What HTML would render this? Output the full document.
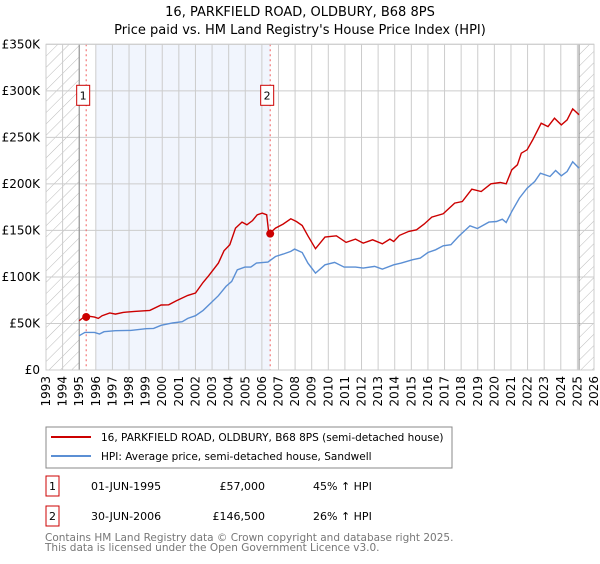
<!DOCTYPE html>
<html><head><meta charset="utf-8"><style>
body{margin:0;background:#fff;font-family:"DejaVu Sans","Liberation Sans",sans-serif;}
svg text{font-family:"DejaVu Sans","Liberation Sans",sans-serif;}
</style></head><body>
<svg id="chart" width="600" height="560" xmlns="http://www.w3.org/2000/svg">
<defs>
<pattern id="hatch" patternUnits="userSpaceOnUse" width="8" height="8" patternTransform="rotate(45)">
<line x1="0" y1="0" x2="0" y2="8" stroke="#bbb" stroke-width="1"/>
</pattern>
</defs>
<text x="300" y="16" text-anchor="middle" font-size="13">16, PARKFIELD ROAD, OLDBURY, B68 8PS</text>
<text x="300" y="34" text-anchor="middle" font-size="13">Price paid vs. HM Land Registry's House Price Index (HPI)</text>
<g id="plot"></g>
<g>
<rect x="46" y="427" width="406" height="41" fill="#fff" stroke="#888"/>
<line x1="51" y1="437" x2="91" y2="437" stroke="#cc0000" stroke-width="2"/>
<text x="101" y="441" font-size="10.5">16, PARKFIELD ROAD, OLDBURY, B68 8PS (semi-detached house)</text>
<line x1="51" y1="456" x2="91" y2="456" stroke="#5b8fd4" stroke-width="2"/>
<text x="101" y="460" font-size="10.5">HPI: Average price, semi-detached house, Sandwell</text>
</g>
<g font-size="11">
<rect x="46" y="476" width="13" height="20" fill="#fff" stroke="#cc0000"/>
<text x="52.5" y="490" text-anchor="middle">1</text>
<text x="91" y="490">01-JUN-1995</text>
<text x="265" y="490" text-anchor="end">£57,000</text>
<text x="313" y="490">45% ↑ HPI</text>
</g>
<g font-size="11">
<rect x="46" y="506" width="13" height="20" fill="#fff" stroke="#cc0000"/>
<text x="52.5" y="520" text-anchor="middle">2</text>
<text x="91" y="520">30-JUN-2006</text>
<text x="265" y="520" text-anchor="end">£146,500</text>
<text x="313" y="520">26% ↑ HPI</text>
</g>
<text x="45" y="541" font-size="10.5" fill="#777">Contains HM Land Registry data © Crown copyright and database right 2025.</text>
<text x="45" y="551" font-size="10.5" fill="#777">This data is licensed under the Open Government Licence v3.0.</text>
</svg>
<script>
const yTicks=[0,50,100,150,200,250,300,350];
const yTickLabels=["£0","£50K","£100K","£150K","£200K","£250K","£300K","£350K"];
const years=[1993,1994,1995,1996,1997,1998,1999,2000,2001,2002,2003,2004,2005,2006,2007,2008,2009,2010,2011,2012,2013,2014,2015,2016,2017,2018,2019,2020,2021,2022,2023,2024,2025,2026];
const hpiYears=[1995.0,1995.34,1995.92,1996.22,1996.49,1997.18,1998.10,1999.02,1999.48,1999.93,2000.62,2001.20,2001.54,2002.00,2002.46,2002.92,2003.38,2003.84,2004.18,2004.52,2004.98,2005.33,2005.67,2006.36,2006.82,2007.28,2007.74,2007.97,2008.43,2008.77,2009.23,2009.80,2010.38,2010.95,2011.64,2012.10,2012.79,2013.25,2013.94,2014.39,2015.08,2015.54,2016.00,2016.46,2016.92,2017.38,2017.84,2018.53,2018.98,2019.67,2020.13,2020.48,2020.71,2021.05,2021.51,2021.97,2022.43,2022.77,2023.35,2023.69,2024.03,2024.38,2024.72,2025.1];
const hpiValues=[36.9,40.4,40.4,38.7,41.2,42.2,42.6,44.4,44.7,48.0,50.5,51.9,55.5,58.3,64.1,71.9,79.8,89.8,95.2,107.7,110.6,110.6,114.9,116.0,122.0,124.5,127.4,129.9,126.3,114.9,104.1,113.1,115.6,110.6,110.6,109.5,111.3,108.4,113.1,114.9,118.5,120.3,126.3,129.2,133.5,134.6,143.5,155.0,152.1,158.9,159.6,162.1,158.5,170.4,184.7,195.4,202.6,211.5,207.9,214.4,208.7,213.3,223.7,216.9];
const priceYears=[1995.0,1995.39,1995.92,1996.15,1996.38,1996.84,1997.18,1997.64,1998.33,1999.25,1999.93,2000.39,2000.85,2001.54,2002.00,2002.46,2002.80,2003.38,2003.72,2004.07,2004.41,2004.80,2005.10,2005.44,2005.72,2006.02,2006.29,2006.42,2006.82,2007.28,2007.74,2008.08,2008.43,2008.77,2009.23,2009.80,2010.49,2011.07,2011.64,2012.10,2012.67,2013.25,2013.71,2013.94,2014.28,2014.85,2015.31,2015.77,2016.23,2016.92,2017.61,2018.07,2018.64,2019.21,2019.79,2020.36,2020.71,2021.05,2021.39,2021.62,2021.97,2022.31,2022.82,2023.23,2023.62,2024.03,2024.38,2024.72,2025.1];
const priceValues=[53.0,58.3,56.9,55.5,58.3,61.2,60.1,61.9,63.0,64.1,69.8,70.1,74.4,80.2,82.7,94.1,101.3,114.9,128.1,134.6,152.5,158.9,156.0,160.7,166.8,168.6,166.8,146.0,152.5,156.8,162.5,159.6,155.3,144.2,130.3,142.8,144.2,137.1,140.7,136.4,139.9,135.6,140.7,138.1,144.6,148.9,150.7,156.8,164.3,167.9,179.3,181.1,194.3,191.8,200.1,201.5,200.1,215.1,220.5,233.0,236.6,247.3,265.2,261.6,270.6,263.4,268.8,280.6,274.2];
const saleYears=[1995.42,2006.5];
const saleValues=[57,146.5];
const saleLabels=["1","2"];

const L=46,R=594,T=44.3,B=370,X0=1993,X1=2026,YMAX=350;
const sx=y=>L+(y-X0)*(R-L)/(X1-X0);
const sy=v=>B-v*(B-T)/YMAX;
const NS="http://www.w3.org/2000/svg";
const g=document.getElementById('plot');
function mk(tag,attrs,parent){const e=document.createElementNS(NS,tag);for(const k in attrs)e.setAttribute(k,attrs[k]);(parent||g).appendChild(e);return e;}

let e;
e=mk('rect',{x:L,y:T,width:R-L,height:B-T,fill:'#fff'});


e=mk('rect',{x:sx(1996.0),y:T,width:sx(saleYears[1])-sx(1996.0),height:B-T,fill:'#eef3fd',opacity:0.8});


e=mk('rect',{x:L,y:T,width:sx(1995)-L,height:B-T,fill:'url(#hatch)'});


e=mk('rect',{x:sx(2025.1),y:T,width:R-sx(2025.1),height:B-T,fill:'url(#hatch)'});



years.forEach(y=>{
  e=mk('line',{x1:sx(y),x2:sx(y),y1:T,y2:B,stroke:'#ccc','stroke-width':1});
  
  
  const t=mk('text',{x:0,y:0,'font-size':12,'text-anchor':'end',transform:`translate(${sx(y)+4},${B+6}) rotate(-90)`});
  t.textContent=y;
  
  
});
yTicks.forEach((v,i)=>{
  e=mk('line',{x1:L,x2:R,y1:sy(v),y2:sy(v),stroke:'#ccc','stroke-width':1});
  
  
  const t=mk('text',{x:L-6,y:sy(v)+4,'font-size':12,'text-anchor':'end'});
  t.textContent=yTickLabels[i];
  
  
});
[1995,2025.1].forEach(y=>{
  e=mk('line',{x1:sx(y),x2:sx(y),y1:T,y2:B,stroke:'#888','stroke-width':1});
  
  
});
saleYears.forEach((y,i)=>{
  e=mk('line',{x1:sx(y),x2:sx(y),y1:T,y2:B,stroke:'#f06060','stroke-width':1,'stroke-dasharray':'2,3'});
  
  
});
function path(xs,vs){return xs.map((x,i)=>(i?'L':'M')+sx(x).toFixed(1)+','+sy(vs[i]).toFixed(1)).join('');}
e=mk('path',{d:path(hpiYears,hpiValues),fill:'none',stroke:'#5b8fd4','stroke-width':1.4});


e=mk('path',{d:path(priceYears,priceValues),fill:'none',stroke:'#cc0000','stroke-width':1.4});


saleYears.forEach((y,i)=>{
  e=mk('circle',{cx:sx(y),cy:sy(saleValues[i]),r:4,fill:'#cc0000'});
  
  
  const bx=sx(y)-6.5;
  e=mk('rect',{x:bx-3,y:T+41,width:13,height:20,fill:'#fff',stroke:'#cc0000'});
  
  
  const t=mk('text',{x:bx+3.5,y:T+55,'font-size':11,'text-anchor':'middle'});
  t.textContent=saleLabels[i];
  
  
});
e=mk('rect',{x:L,y:T,width:R-L,height:B-T,fill:'none',stroke:'#ccc'});


</script>
</body></html>
